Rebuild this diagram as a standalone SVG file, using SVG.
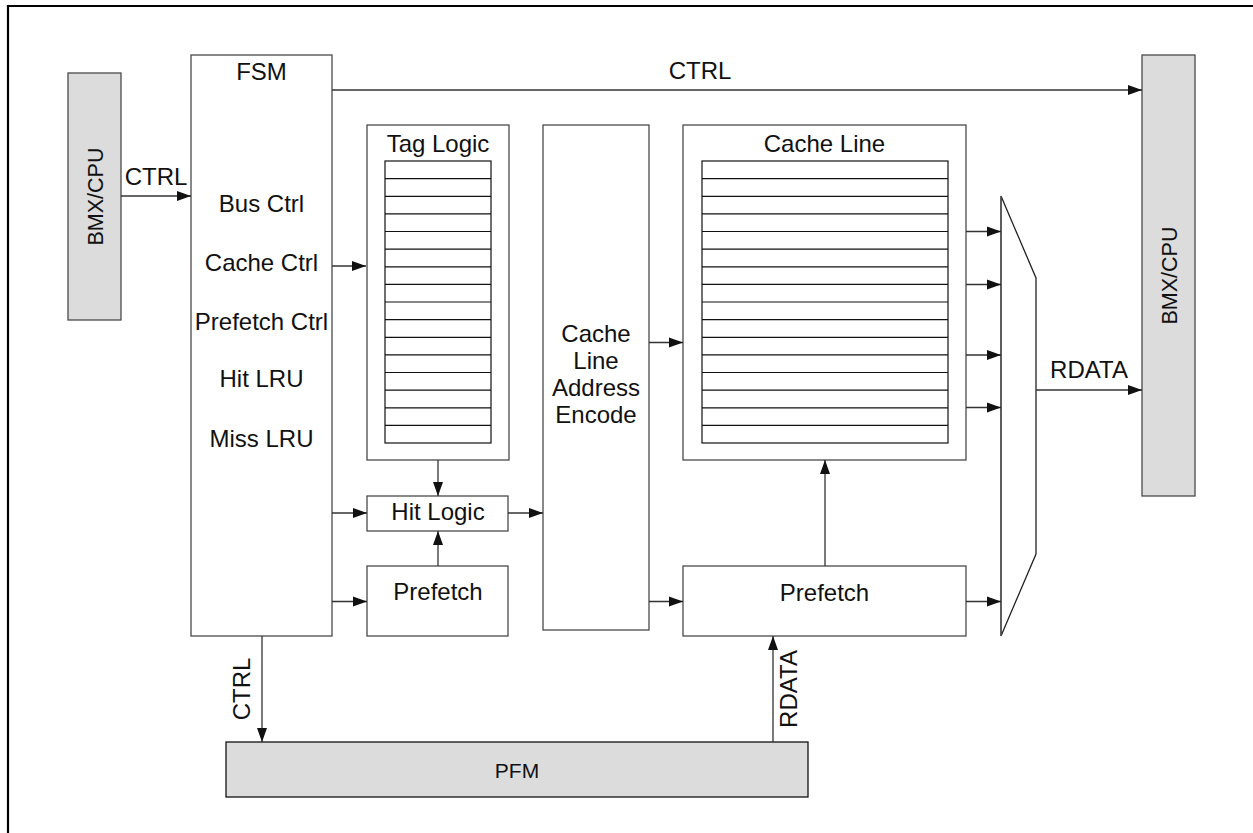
<svg xmlns="http://www.w3.org/2000/svg" width="1253" height="833" viewBox="0 0 1253 833">
<style>
.box{fill:#fff;stroke:#4a4a4a;stroke-width:1.3}
.gray{fill:#dcdcdc;stroke:#4a4a4a;stroke-width:1.3}
.row{fill:none;stroke:#111;stroke-width:1.2}
.t{font-family:"Liberation Sans",Arial,sans-serif;font-size:24px;fill:#111;text-anchor:middle}
.c{fill:none;stroke:#333;stroke-width:1.3}
</style>
<defs>
<marker id="ah" markerUnits="userSpaceOnUse" markerWidth="15" markerHeight="11" refX="14" refY="5.5" orient="auto">
<path d="M0,0.5 L14,5.5 L0,10.5 Z" fill="#111"/>
</marker>
</defs>
<path d="M8,833 V6 H1253" fill="none" stroke="#000" stroke-width="2.2"/>

<g id="bmx-left">
<rect class="gray" x="68" y="73" width="53" height="247"/>
<text class="t" transform="translate(102.5,196.5) rotate(-90)" style="font-size:21.5px">BMX/CPU</text>
</g>

<g id="bmx-right">
<rect class="gray" x="1142" y="55" width="53" height="441"/>
<text class="t" transform="translate(1176.5,275.5) rotate(-90)" style="font-size:21.5px">BMX/CPU</text>
</g>

<g id="fsm">
<rect class="box" x="191" y="55" width="141" height="581"/>
<text class="t" x="261.5" y="80">FSM</text>
<text class="t" x="261.5" y="212">Bus Ctrl</text>
<text class="t" x="261.5" y="271">Cache Ctrl</text>
<text class="t" x="261.5" y="330">Prefetch Ctrl</text>
<text class="t" x="261.5" y="387">Hit LRU</text>
<text class="t" x="261.5" y="447">Miss LRU</text>
</g>

<g id="tag-logic">
<rect class="box" x="367" y="125" width="142" height="335"/>
<text class="t" x="438" y="152">Tag Logic</text>
<rect class="row" x="385" y="161" width="106" height="282"/>
<path class="row" d="M385,178.6H491M385,196.3H491M385,213.9H491M385,231.5H491M385,249.1H491M385,266.8H491M385,284.4H491M385,302H491M385,319.6H491M385,337.3H491M385,354.9H491M385,372.5H491M385,390.1H491M385,407.8H491M385,425.4H491"/>
</g>

<g id="hit-logic">
<rect class="box" x="367" y="496" width="141" height="35"/>
<text class="t" x="438" y="520">Hit Logic</text>
</g>

<g id="prefetch-left">
<rect class="box" x="367" y="566" width="141" height="70"/>
<text class="t" x="438" y="600">Prefetch</text>
</g>

<g id="encode">
<rect class="box" x="543" y="125" width="106" height="505"/>
<text class="t" x="596" y="342">Cache</text>
<text class="t" x="596" y="369">Line</text>
<text class="t" x="596" y="396">Address</text>
<text class="t" x="596" y="423">Encode</text>
</g>

<g id="cache-line">
<rect class="box" x="683" y="125" width="283" height="335"/>
<text class="t" x="824.5" y="152">Cache Line</text>
<rect class="row" x="702" y="161" width="246" height="282"/>
<path class="row" d="M702,178.6H948M702,196.3H948M702,213.9H948M702,231.5H948M702,249.1H948M702,266.8H948M702,284.4H948M702,302H948M702,319.6H948M702,337.3H948M702,354.9H948M702,372.5H948M702,390.1H948M702,407.8H948M702,425.4H948"/>
</g>

<g id="prefetch-right">
<rect class="box" x="683" y="566" width="283" height="70"/>
<text class="t" x="824.5" y="601">Prefetch</text>
</g>

<g id="mux">
<path d="M1001,196 L1036,278 L1036,554 L1001,636 Z" fill="#fff" stroke="#222" stroke-width="1.3"/>
<path d="M1001,196 V636" stroke="#555" stroke-width="1.3"/>
</g>

<g id="pfm">
<rect class="gray" x="226" y="742" width="582" height="55" style="stroke:#111"/>
<text class="t" x="517" y="778" style="font-size:21px">PFM</text>
</g>

<g id="connectors">
<path class="c" d="M121,196 H191" marker-end="url(#ah)"/>
<text class="t" x="156" y="185">CTRL</text>
<path class="c" d="M332,90 H1142" marker-end="url(#ah)"/>
<text class="t" x="700" y="79">CTRL</text>
<path class="c" d="M332,266 H366" marker-end="url(#ah)"/>
<path class="c" d="M332,513 H367" marker-end="url(#ah)"/>
<path class="c" d="M332,601.5 H367" marker-end="url(#ah)"/>
<path class="c" d="M438,460 V496" marker-end="url(#ah)"/>
<path class="c" d="M438,566 V531" marker-end="url(#ah)"/>
<path class="c" d="M508,513 H543" marker-end="url(#ah)"/>
<path class="c" d="M649,342.5 H683" marker-end="url(#ah)"/>
<path class="c" d="M649,601.5 H683" marker-end="url(#ah)"/>
<path class="c" d="M825,566 V460" marker-end="url(#ah)"/>
<path class="c" d="M966,231.5 H1001" marker-end="url(#ah)"/>
<path class="c" d="M966,284.5 H1001" marker-end="url(#ah)"/>
<path class="c" d="M966,355 H1001" marker-end="url(#ah)"/>
<path class="c" d="M966,407.5 H1001" marker-end="url(#ah)"/>
<path class="c" d="M966,601.5 H1001" marker-end="url(#ah)"/>
<path class="c" d="M1036,390 H1142" marker-end="url(#ah)"/>
<text class="t" x="1089" y="378">RDATA</text>
<path class="c" d="M262,636 V742" marker-end="url(#ah)"/>
<text class="t" transform="translate(250,689) rotate(-90)">CTRL</text>
<path class="c" d="M773,742 V636" marker-end="url(#ah)"/>
<text class="t" transform="translate(797,689) rotate(-90)">RDATA</text>
</g>
</svg>
